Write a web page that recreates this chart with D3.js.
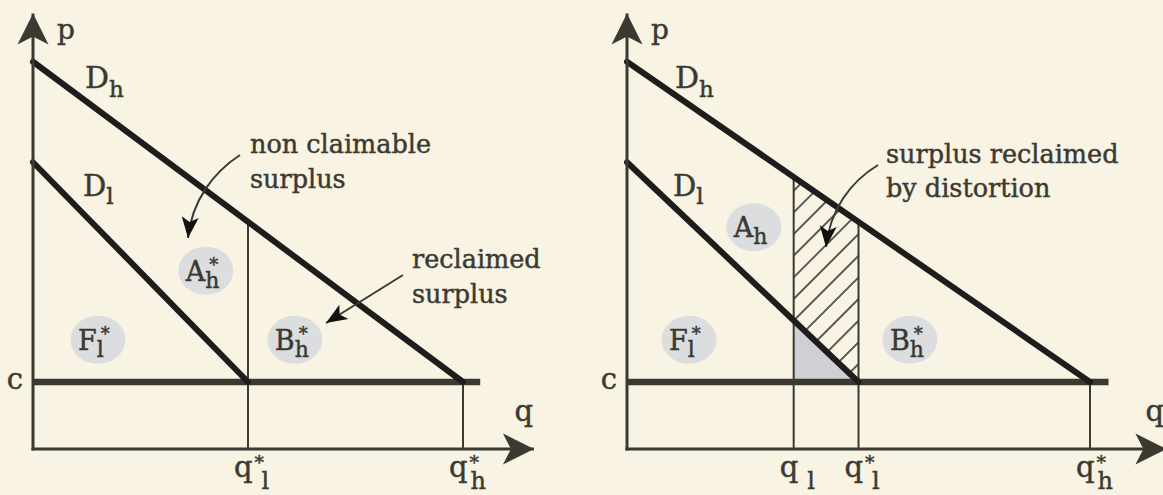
<!DOCTYPE html>
<html><head><meta charset="utf-8">
<script src="https://cdn.jsdelivr.net/npm/d3@7"></script>
<style>
html,body{margin:0;padding:0;background:#f8f3e2;}
svg{display:block;}
text{font-family:"DejaVu Serif",serif;fill:#3a3a32;stroke:#3a3a32;stroke-width:0.45px;}
</style></head><body>
<svg id="chart" width="1163" height="495"></svg>
<script>
// ---- data (model units: q = quantity, p = price) ----
const demandHigh = [{q:0, p:5.78}, {q:10, p:1}];
const demandLow  = [{q:0, p:4.28}, {q:5,  p:1}];
const costLevel = 1;
const qStarLow = 5;
const qStarHigh = 10;
const qLowDistorted = 3.6;
const axisMaxQ = 11.65;
const axisMaxP = 6.5;
const costLineEndQ = 10.4;
const bubblesLeft  = [{name:"A", sub:"h", sup:"*", q:4.02, p:2.66}, {name:"F", sub:"l", sup:"*", q:1.51, p:1.63}, {name:"B", sub:"h", sup:"*", q:6.09, p:1.63}];
const bubblesRight = [{name:"A", sub:"h", sup:"",  q:2.74, p:3.31}, {name:"F", sub:"l", sup:"*", q:1.34, p:1.63}, {name:"B", sub:"h", sup:"*", q:6.11, p:1.63}];
const tickLabelsLeft  = [{q:qStarLow, sub:"l", sup:"*"}, {q:qStarHigh, sub:"h", sup:"*"}];
const tickLabelsRight = [{q:qLowDistorted, sub:"l", sup:""}, {q:qStarLow, sub:"l", sup:"*"}, {q:qStarHigh, sub:"h", sup:"*"}];

const W = 1163, H = 495;
const AX = "#3a3a32", DARK = "#1f1d1c";
const svg = d3.select("#chart");
svg.append("rect").attr("width", W).attr("height", H).attr("fill", "#f8f3e2");

const defs = svg.append("defs");
defs.append("marker").attr("id","axisArrow").attr("markerUnits","userSpaceOnUse")
  .attr("viewBox","-32 -17 34 34").attr("refX",0).attr("refY",0)
  .attr("markerWidth",34).attr("markerHeight",34).attr("orient","auto")
  .append("path").attr("d","M0,0 L-31,-15.5 L-23,0 L-31,15.5 Z").attr("fill",AX);
defs.append("marker").attr("id","noteArrow").attr("markerUnits","userSpaceOnUse")
  .attr("viewBox","-22 -10 24 20").attr("refX",0).attr("refY",0)
  .attr("markerWidth",24).attr("markerHeight",20).attr("orient","auto")
  .append("path").attr("d","M0,0 L-21,-8.5 L-16,0 L-21,8.5 Z").attr("fill","#111");
const pat = defs.append("pattern").attr("id","hatch").attr("patternUnits","userSpaceOnUse")
  .attr("width",15.3).attr("height",15.3).attr("patternTransform","rotate(45)");
pat.append("line").attr("x1",7.6).attr("y1",0).attr("x2",7.6).attr("y2",15.3)
  .attr("stroke","#1a1a1a").attr("stroke-width",1.4);

const y = d3.scaleLinear().domain([0, costLevel]).range([449, 382]);
function priceAt(line, q){
  const a = line[0], b = line[1];
  return a.p + (b.p - a.p) * (q - a.q) / (b.q - a.q);
}
const lineGen = (x) => d3.line().x(d => x(d.q)).y(d => y(d.p));

// one <text> per math label: base, then subscript and superscript stacked after it
function mathLabel(g, x, yb, base, sub, sup, o){
  const t = g.append("text");
  const b = t.append("tspan").attr("x", x).attr("y", yb).attr("font-size", o.size).text(base);
  const w = b.node().getComputedTextLength();
  if (sub) t.append("tspan").attr("x", x + w + (o.subDx||0)).attr("y", yb + o.subDy)
      .attr("font-size", o.subSize).text(sub);
  if (sup) t.append("tspan").attr("x", x + w + (o.supDx||0)).attr("y", yb + o.supDy)
      .attr("font-size", o.supSize).text(sup);
  return t;
}

function panel(x0, x10, bubbles, tickLabels, distorted){
  const x = d3.scaleLinear().domain([0, qStarHigh]).range([x0, x10]);
  const g = svg.append("g");
  const L = lineGen(x);

  if (distorted){
    const hatchPoly = [
      {q:qLowDistorted, p:priceAt(demandHigh, qLowDistorted)},
      {q:qStarLow, p:priceAt(demandHigh, qStarLow)},
      {q:qStarLow, p:costLevel},
      {q:qLowDistorted, p:priceAt(demandLow, qLowDistorted)}
    ];
    g.append("path").attr("d", L(hatchPoly) + "Z").attr("fill","url(#hatch)");
    const tri = [
      {q:qLowDistorted, p:priceAt(demandLow, qLowDistorted)},
      {q:qStarLow, p:costLevel},
      {q:qLowDistorted, p:costLevel}
    ];
    g.append("path").attr("d", L(tri) + "Z").attr("fill","#cfd0d3");
  }

  // bubbles
  bubbles.forEach(b => {
    const cx = x(b.q), cy = y(b.p);
    g.append("ellipse").attr("cx",cx).attr("cy",cy).attr("rx",27.5).attr("ry",24).attr("fill","#dcdddf");
    mathLabel(g, cx - 20, cy + 10, b.name, b.sub, b.sup,
      {size:27, subSize:22, subDy:7, supSize:18, supDy:-10, supDx:4});
  });

  // thin verticals
  const verts = distorted
    ? [{q:qLowDistorted, top:priceAt(demandHigh, qLowDistorted)}, {q:qStarLow, top:priceAt(demandHigh, qStarLow)}, {q:qStarHigh, top:costLevel}]
    : [{q:qStarLow, top:priceAt(demandHigh, qStarLow)}, {q:qStarHigh, top:costLevel}];
  verts.forEach(v => g.append("line").attr("x1",x(v.q)).attr("x2",x(v.q))
      .attr("y1",y(v.top)).attr("y2",y(0)).attr("stroke",AX).attr("stroke-width",2));

  // cost line
  g.append("line").attr("x1",x(0)).attr("x2",x(costLineEndQ)).attr("y1",y(costLevel)).attr("y2",y(costLevel))
    .attr("stroke",AX).attr("stroke-width",6.5);
  // demand lines
  [demandHigh, demandLow].forEach(d => g.append("path").attr("d", L(d))
    .attr("stroke",DARK).attr("stroke-width",6).attr("fill","none").attr("stroke-linecap","round"));

  // axes
  g.append("line").attr("x1",x(0)).attr("x2",x(0)).attr("y1",y(0)+1.5).attr("y2",y(axisMaxP))
    .attr("stroke",AX).attr("stroke-width",3).attr("marker-end","url(#axisArrow)");
  g.append("line").attr("x1",x(0)-1.5).attr("x2",x(axisMaxQ)).attr("y1",y(0)).attr("y2",y(0))
    .attr("stroke",AX).attr("stroke-width",3).attr("marker-end","url(#axisArrow)");

  // axis labels
  g.append("text").attr("x", x(0)+24).attr("y", 39).attr("font-size",28).text("p");
  g.append("text").attr("x", x(11.2)).attr("y", 421).attr("font-size",29).text("q");
  g.append("text").attr("x", x(0)-10).attr("y", y(costLevel)+7).attr("font-size",29).attr("text-anchor","end").text("c");
  mathLabel(g, x(0)+52 - (distorted?4:0), 88, "D", "h", "", {size:30, subSize:23, subDy:9});
  mathLabel(g, x(0)+50 - (distorted?4:0), 196, "D", "l", "", {size:29, subSize:23, subDy:8});

  tickLabels.forEach(t => {
    mathLabel(g, x(t.q) - 14, 477, "q", t.sub, t.sup,
      {size:29, subSize:24, subDy:12, subDx: t.sub === "l" ? 9 : 3, supSize:19, supDy:-8, supDx:2});
  });
  return {g, x};
}

// left panel
const left = panel(33, 463, bubblesLeft, tickLabelsLeft, false);
const lg = left.g;
lg.append("text").attr("x",250).attr("y",153).attr("font-size",25.5).text("non claimable");
lg.append("text").attr("x",250).attr("y",188).attr("font-size",25.5).text("surplus");
lg.append("text").attr("x",412).attr("y",268).attr("font-size",25.5).text("reclaimed");
lg.append("text").attr("x",412).attr("y",303).attr("font-size",25.5).text("surplus");
lg.append("path").attr("d","M240,155 C214,172 192,200 188,238").attr("fill","none")
  .attr("stroke",AX).attr("stroke-width",2).attr("marker-end","url(#noteArrow)");
lg.append("path").attr("d","M403,275 L326,323").attr("fill","none")
  .attr("stroke",AX).attr("stroke-width",2).attr("marker-end","url(#noteArrow)");

// right panel
const right = panel(627, 1090, bubblesRight, tickLabelsRight, true);
const rg = right.g;
rg.append("text").attr("x",886).attr("y",163).attr("font-size",25.5).text("surplus reclaimed");
rg.append("text").attr("x",886).attr("y",197).attr("font-size",25.5).text("by distortion");
rg.append("path").attr("d","M878,165 C850,182 830,210 826,247").attr("fill","none")
  .attr("stroke",AX).attr("stroke-width",2).attr("marker-end","url(#noteArrow)");
</script>
</body></html>
